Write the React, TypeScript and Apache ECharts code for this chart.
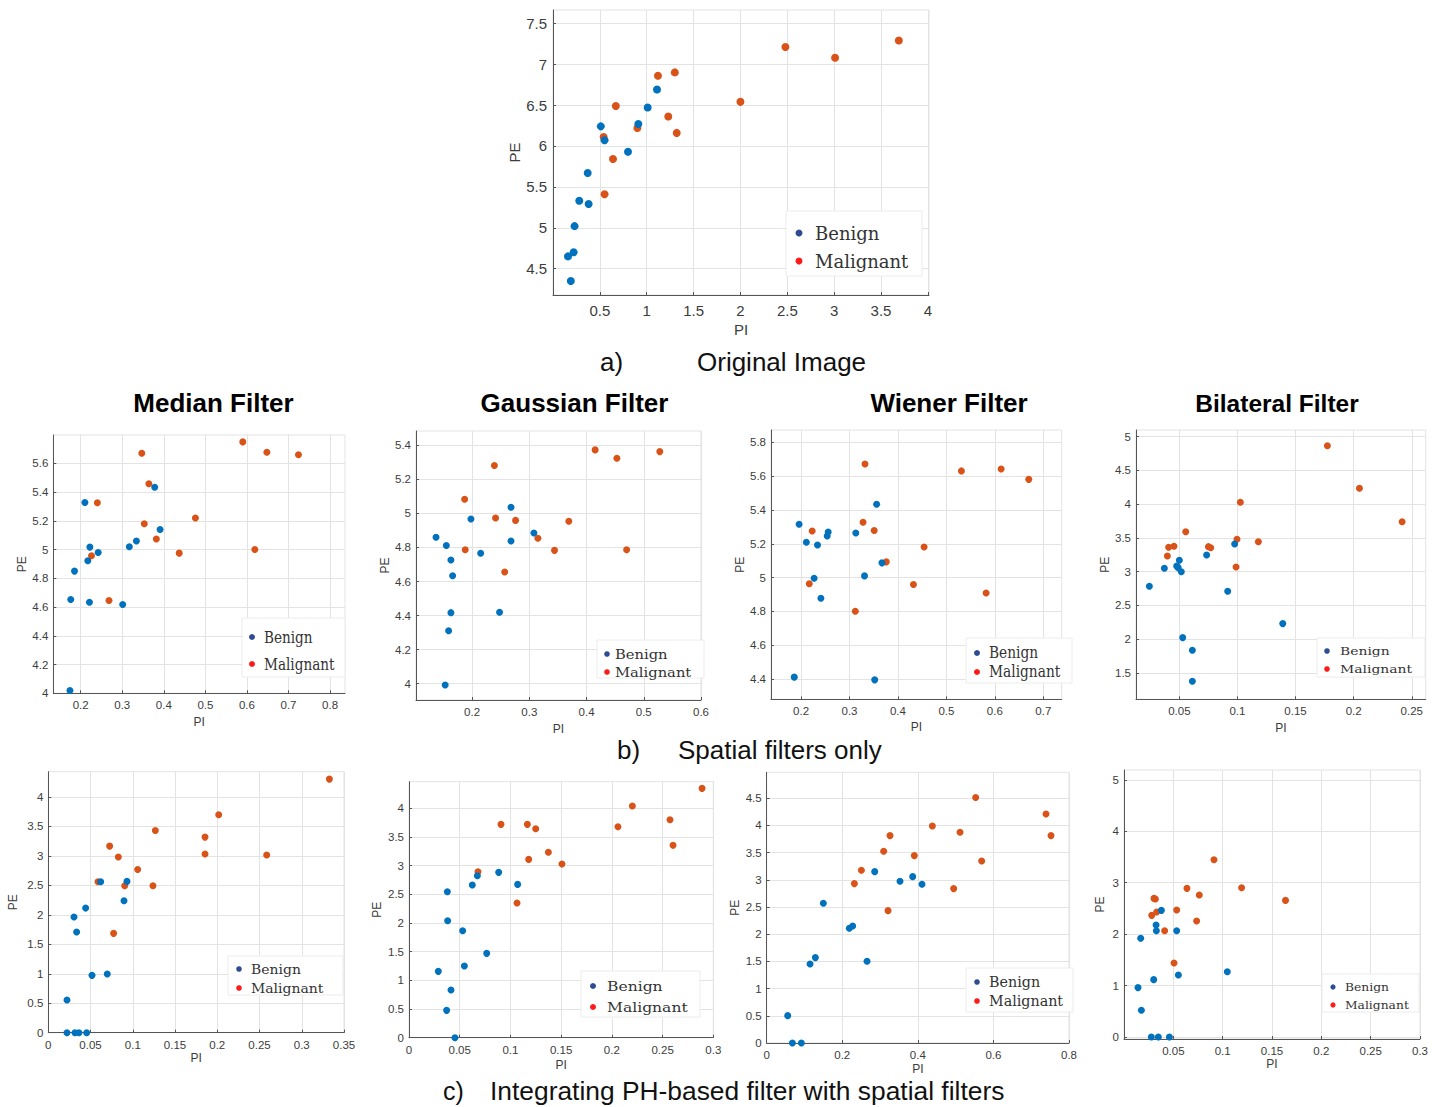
import React, { useEffect, useRef } from 'react';
import * as echarts from 'echarts';

// ---------- Data: [PI, PE] pairs ----------
// a) Original image
const origBenign = [[0.16,4.65],[0.22,4.70],[0.19,4.35],[0.23,5.02],[0.28,5.33],[0.38,5.29],[0.37,5.67],[0.51,6.24],[0.55,6.07],[0.80,5.93],[0.91,6.27],[1.01,6.47],[1.11,6.69]];
const origMalignant = [[0.54,6.11],[0.55,5.41],[0.64,5.84],[0.67,6.49],[0.90,6.22],[1.12,6.86],[1.30,6.90],[1.23,6.36],[1.32,6.16],[2.00,6.54],[2.48,7.21],[3.01,7.08],[3.69,7.29]];
// b) Spatial filters only
const medianBenign = [[0.174,4.02],[0.176,4.652],[0.185,4.85],[0.21,5.328],[0.217,4.922],[0.222,5.017],[0.221,4.634],[0.242,4.98],[0.301,4.618],[0.317,5.019],[0.334,5.059],[0.378,5.433],[0.391,5.14]];
const medianMalignant = [[0.226,4.957],[0.24,5.326],[0.268,4.646],[0.347,5.67],[0.364,5.458],[0.353,5.18],[0.382,5.073],[0.437,4.975],[0.476,5.219],[0.59,5.749],[0.648,5.677],[0.724,5.66],[0.619,5.001]];
const gaussBenign = [[0.137,4.86],[0.155,4.811],[0.163,4.726],[0.166,4.634],[0.163,4.417],[0.159,4.311],[0.153,3.992],[0.198,4.967],[0.215,4.766],[0.248,4.419],[0.268,5.036],[0.268,4.838],[0.308,4.885]];
const gaussMalignant = [[0.187,5.083],[0.188,4.787],[0.239,5.281],[0.241,4.973],[0.276,4.959],[0.257,4.656],[0.315,4.854],[0.344,4.783],[0.369,4.954],[0.415,5.373],[0.453,5.324],[0.47,4.787],[0.528,5.363]];
const wienerBenign = [[0.186,4.411],[0.196,5.315],[0.211,5.209],[0.234,5.193],[0.227,4.996],[0.241,4.878],[0.254,5.246],[0.256,5.27],[0.313,5.264],[0.331,5.01],[0.356,5.434],[0.352,4.395],[0.367,5.087]];
const wienerMalignant = [[0.223,5.276],[0.217,4.963],[0.312,4.801],[0.332,5.672],[0.328,5.327],[0.351,5.278],[0.376,5.093],[0.454,5.181],[0.432,4.959],[0.531,5.631],[0.582,4.909],[0.613,5.642],[0.67,5.581]];
const bilatBenign = [[0.0242,2.784],[0.0371,3.05],[0.0477,3.085],[0.05,3.169],[0.049,3.06],[0.0517,3.0],[0.0529,2.024],[0.0612,1.836],[0.0612,1.377],[0.0735,3.248],[0.0916,2.71],[0.0976,3.411],[0.139,2.231]];
const bilatMalignant = [[0.0397,3.233],[0.0408,3.361],[0.0454,3.376],[0.0555,3.593],[0.075,3.371],[0.077,3.356],[0.0996,3.48],[0.0988,3.07],[0.1025,4.028],[0.118,3.445],[0.1774,4.867],[0.205,4.235],[0.2417,3.741]];
// c) PH-based filter + spatial filters
const phMedianBenign = [[0.0221,0],[0.0315,0],[0.0363,0],[0.0454,0],[0.0221,0.554],[0.0304,1.963],[0.0335,1.708],[0.0442,2.115],[0.0517,0.973],[0.062,2.562],[0.0698,0.995],[0.0896,2.24],[0.0931,2.568]];
const phMedianMalignant = [[0.0588,2.562],[0.0726,3.167],[0.0773,1.686],[0.0829,2.981],[0.0904,2.494],[0.1058,2.771],[0.1239,2.494],[0.1267,3.433],[0.1855,3.32],[0.1855,3.032],[0.2017,3.699],[0.2585,3.015],[0.3327,4.304]];
const phGaussBenign = [[0.0289,1.157],[0.0378,2.547],[0.0381,2.041],[0.0371,0.477],[0.0414,0.831],[0.0453,0],[0.0529,1.866],[0.0546,1.25],[0.0624,2.663],[0.0674,2.826],[0.0766,1.471],[0.0884,2.884],[0.1071,2.674]];
const phGaussMalignant = [[0.068,2.895],[0.0907,3.721],[0.1065,2.349],[0.1167,3.721],[0.118,3.11],[0.1249,3.645],[0.1374,3.233],[0.1508,3.029],[0.206,3.68],[0.2202,4.041],[0.2573,3.802],[0.2603,3.355],[0.2889,4.349]];
const phWienerBenign = [[0.0556,0.503],[0.0679,0],[0.0917,0],[0.1147,1.453],[0.1288,1.57],[0.1499,2.569],[0.2187,2.109],[0.2276,2.152],[0.2655,1.502],[0.2858,3.151],[0.3528,2.974],[0.3863,3.059],[0.411,2.918]];
const phWienerMalignant = [[0.232,2.931],[0.2505,3.176],[0.3096,3.525],[0.3263,3.814],[0.3211,2.434],[0.3907,3.446],[0.4384,3.991],[0.4948,2.839],[0.5116,3.875],[0.553,4.513],[0.5689,3.348],[0.7391,4.212],[0.7524,3.814]];
const phBilatBenign = [[0.0142,0.959],[0.0176,0.518],[0.0169,1.917],[0.0277,0],[0.0348,0],[0.046,0],[0.0301,1.114],[0.0325,2.176],[0.0328,2.066],[0.0379,2.461],[0.0534,2.066],[0.0551,1.205],[0.1047,1.269]];
const phBilatMalignant = [[0.0281,2.364],[0.0304,2.694],[0.0318,2.681],[0.0331,2.429],[0.0412,2.066],[0.0507,1.438],[0.0534,2.468],[0.0638,2.889],[0.0736,2.254],[0.0763,2.759],[0.0912,3.446],[0.1192,2.902],[0.1637,2.655]];

// ---------- Tick labels ----------
const origXTicks = [0.5,1,1.5,2,2.5,3,3.5,4];
const origYTicks = [4.5,5,5.5,6,6.5,7,7.5];
const medianXTicks = [0.2,0.3,0.4,0.5,0.6,0.7,0.8];
const medianYTicks = [4,4.2,4.4,4.6,4.8,5,5.2,5.4,5.6];
const gaussXTicks = [0.2,0.3,0.4,0.5,0.6];
const gaussYTicks = [4,4.2,4.4,4.6,4.8,5,5.2,5.4];
const wienerXTicks = [0.2,0.3,0.4,0.5,0.6,0.7];
const wienerYTicks = [4.4,4.6,4.8,5,5.2,5.4,5.6,5.8];
const bilatXTicks = [0.05,0.1,0.15,0.2,0.25];
const bilatYTicks = [1.5,2,2.5,3,3.5,4,4.5,5];
const phMedianXTicks = [0,0.05,0.1,0.15,0.2,0.25,0.3,0.35];
const phMedianYTicks = [0,0.5,1,1.5,2,2.5,3,3.5,4];
const phGaussXTicks = [0,0.05,0.1,0.15,0.2,0.25,0.3];
const phGaussYTicks = [0,0.5,1,1.5,2,2.5,3,3.5,4];
const phWienerXTicks = [0,0.2,0.4,0.6,0.8];
const phWienerYTicks = [0,0.5,1,1.5,2,2.5,3,3.5,4,4.5];
const phBilatXTicks = [0.05,0.1,0.15,0.2,0.25,0.3];
const phBilatYTicks = [0,1,2,3,4,5];

const titles = ['Median Filter', 'Gaussian Filter', 'Wiener Filter', 'Bilateral Filter'];

const BLUE = '#0072BD';
const ORANGE = '#D95319';
const GRID = '#e3e3e3';
const AXIS = '#555555';
const LABEL = '#3c3c3c';
const SANS = '"Liberation Sans", Arial, sans-serif';
const SERIF = '"DejaVu Serif", serif';

type Panel = {
  benign: number[][]; malignant: number[][]; xTicks: number[]; yTicks: number[];
  left: number; top: number; width: number; height: number;
  xMin: number; xMax: number; yMin: number; yMax: number;
  big?: boolean; xGap: number; yGap: number;
  lg: { box: number[]; dotX: number; y1: number; y2: number; textX: number; fs: number; sx: number; r: number };
};

const panels: Panel[] = [
  { benign: origBenign, malignant: origMalignant, xTicks: origXTicks, yTicks: origYTicks,
    left: 553, top: 10, width: 376, height: 285, xMin: 0, xMax: 4.012, yMin: 4.178, yMax: 7.663, big: true,
    xGap: 26.5, yGap: 31.5,
    lg: { box: [786, 211, 136, 65], dotX: 799, y1: 233, y2: 261, textX: 815, fs: 18, sx: 1.0, r: 3.5 } },
  { benign: medianBenign, malignant: medianMalignant, xTicks: medianXTicks, yTicks: medianYTicks,
    left: 53.3, top: 435, width: 291.7, height: 258.3, xMin: 0.134, xMax: 0.836, yMin: 4.0, yMax: 5.797,
    xGap: 22.4, yGap: 23.3,
    lg: { box: [242, 618, 103, 59], dotX: 252, y1: 637, y2: 664, textX: 264, fs: 17, sx: 0.8, r: 3 } },
  { benign: gaussBenign, malignant: gaussMalignant, xTicks: gaussXTicks, yTicks: gaussYTicks,
    left: 416, top: 431, width: 285, height: 269, xMin: 0.102, xMax: 0.6, yMin: 3.904, yMax: 5.484,
    xGap: 23, yGap: 23.7,
    lg: { box: [597, 640, 107, 38], dotX: 607, y1: 654, y2: 672, textX: 615, fs: 12.8, sx: 1.15, r: 2.8 } },
  { benign: wienerBenign, malignant: wienerMalignant, xTicks: wienerXTicks, yTicks: wienerYTicks,
    left: 771, top: 430, width: 290.7, height: 269.3, xMin: 0.138, xMax: 0.738, yMin: 4.28, yMax: 5.873,
    xGap: 21.4, yGap: 23.3,
    lg: { box: [966, 638, 106, 45], dotX: 977, y1: 653, y2: 672, textX: 989, fs: 16, sx: 0.86, r: 3 } },
  { benign: bilatBenign, malignant: bilatMalignant, xTicks: bilatXTicks, yTicks: bilatYTicks,
    left: 1136, top: 430, width: 289.7, height: 269.3, xMin: 0.0127, xMax: 0.262, yMin: 1.11, yMax: 5.099,
    xGap: 22.4, yGap: 23.3,
    lg: { box: [1317, 638, 108, 39], dotX: 1327, y1: 651, y2: 669, textX: 1340, fs: 11.9, sx: 1.17, r: 2.8 } },
  { benign: phMedianBenign, malignant: phMedianMalignant, xTicks: phMedianXTicks, yTicks: phMedianYTicks,
    left: 48.3, top: 771.7, width: 295.7, height: 261, xMin: 0, xMax: 0.35, yMin: 0, yMax: 4.43,
    xGap: 19.6, yGap: 29,
    lg: { box: [228, 956, 115, 39], dotX: 239, y1: 969, y2: 988, textX: 251, fs: 13.7, sx: 1.02, r: 2.8 } },
  { benign: phGaussBenign, malignant: phGaussMalignant, xTicks: phGaussXTicks, yTicks: phGaussYTicks,
    left: 409, top: 781.7, width: 304.3, height: 256, xMin: 0, xMax: 0.3, yMin: 0, yMax: 4.465,
    xGap: 21.3, yGap: 25.7,
    lg: { box: [581, 971, 119, 46], dotX: 593, y1: 986, y2: 1007, textX: 607, fs: 13.3, sx: 1.17, r: 3 } },
  { benign: phWienerBenign, malignant: phWienerMalignant, xTicks: phWienerXTicks, yTicks: phWienerYTicks,
    left: 766.7, top: 772.3, width: 302.3, height: 270.7, xMin: 0, xMax: 0.8, yMin: 0, yMax: 4.978,
    xGap: 20, yGap: 25.7,
    lg: { box: [966, 968, 107, 44], dotX: 977, y1: 982, y2: 1001, textX: 989, fs: 14.6, sx: 0.98, r: 2.8 } },
  { benign: phBilatBenign, malignant: phBilatMalignant, xTicks: phBilatXTicks, yTicks: phBilatYTicks,
    left: 1124, top: 770, width: 296, height: 269, xMin: 0, xMax: 0.3, yMin: -0.04, yMax: 5.19,
    xGap: 16.7, yGap: 18,
    lg: { box: [1322, 974, 97, 38], dotX: 1333, y1: 987, y2: 1005, textX: 1345, fs: 11.4, sx: 1.08, r: 2.6 } },
];

const fmt = (v: number) => String(Math.round(v * 10000) / 10000);

function txt(x: number, y: number, text: string, fontSize: number, opts: any = {}) {
  return {
    type: 'text', x, y, z: 100, scaleX: opts.sx ?? 1,
    style: {
      text, fontSize, fontFamily: opts.font ?? SANS, fontWeight: opts.weight ?? 'normal',
      fill: opts.fill ?? '#111', align: opts.align ?? 'left', textAlign: opts.align ?? 'left',
      verticalAlign: 'middle', textVerticalAlign: 'middle',
    },
  };
}

export default function App() {
  const ref = useRef<HTMLDivElement>(null);
  useEffect(() => {
    document.body.style.margin = '0';
    const chart = echarts.init(ref.current as HTMLDivElement, null, { renderer: 'svg' });
    const grid: any[] = [], xAxis: any[] = [], yAxis: any[] = [], series: any[] = [], graphic: any[] = [];
    panels.forEach((p, i) => {
      const tickFont = p.big ? 15 : 11.5;
      const nameFont = p.big ? 15 : 12;
      const sym = p.big ? 8 : 7;
      grid.push({ left: p.left, top: p.top, width: p.width, height: p.height, show: true,
        borderColor: GRID, borderWidth: 1, backgroundColor: 'transparent', containLabel: false });
      const common = (ticks: number[], margin: number) => ({
        type: 'value', gridIndex: i, nameLocation: 'middle',
        nameTextStyle: { fontSize: nameFont, fontFamily: SANS, color: LABEL },
        axisLine: { show: true, onZero: false, lineStyle: { color: AXIS, width: 1 } },
        axisTick: { show: true, inside: true, length: 3, customValues: ticks, lineStyle: { color: AXIS } },
        axisLabel: { customValues: ticks, fontSize: tickFont, fontFamily: SANS, color: LABEL, margin, formatter: fmt },
        splitLine: { show: true, lineStyle: { color: GRID, width: 1 } },
      });
      xAxis.push({ ...common(p.xTicks, p.big ? 8 : 6), min: p.xMin, max: p.xMax, name: 'PI', nameGap: p.xGap });
      yAxis.push({ ...common(p.yTicks, p.big ? 6 : 5), min: p.yMin, max: p.yMax, name: 'PE', nameGap: p.yGap });
      series.push({ type: 'scatter', name: 'Malignant', xAxisIndex: i, yAxisIndex: i, data: p.malignant,
        symbolSize: sym, itemStyle: { color: ORANGE, opacity: 1 }, silent: true, z: 2 });
      series.push({ type: 'scatter', name: 'Benign', xAxisIndex: i, yAxisIndex: i, data: p.benign,
        symbolSize: sym, itemStyle: { color: BLUE, opacity: 1 }, silent: true, z: 3 });
      const lg = p.lg;
      graphic.push({ type: 'rect', z: 99, shape: { x: lg.box[0], y: lg.box[1], width: lg.box[2], height: lg.box[3] },
        style: { fill: '#ffffff', stroke: '#ececec', lineWidth: 1 } });
      graphic.push({ type: 'circle', z: 100, shape: { cx: lg.dotX, cy: lg.y1, r: lg.r }, style: { fill: '#2f4c92' } });
      graphic.push({ type: 'circle', z: 100, shape: { cx: lg.dotX, cy: lg.y2, r: lg.r }, style: { fill: '#ff1a1a' } });
      graphic.push(txt(lg.textX, lg.y1, 'Benign', lg.fs, { font: SERIF, fill: '#333', sx: lg.sx }));
      graphic.push(txt(lg.textX, lg.y2, 'Malignant', lg.fs, { font: SERIF, fill: '#333', sx: lg.sx }));
    });
    // Panel titles
    const titleX = [213.5, 574.5, 949, 1277];
    titles.forEach((t, k) => {
      graphic.push(txt(titleX[k], 403, t, k === 3 ? 24.5 : 26, { align: 'center', weight: 'bold', fill: '#000' }));
    });
    // Captions
    graphic.push(txt(600, 362, 'a)', 26));
    graphic.push(txt(697, 362, 'Original Image', 26));
    graphic.push(txt(617, 750, 'b)', 26));
    graphic.push(txt(678, 750, 'Spatial filters only', 26));
    graphic.push(txt(443, 1091, 'c)', 25));
    graphic.push(txt(490, 1091, 'Integrating PH-based filter with spatial filters', 25, { sx: 1.055 }));

    chart.setOption({ animation: false, backgroundColor: '#ffffff', grid, xAxis, yAxis, series, graphic });
    return () => chart.dispose();
  }, []);
  return <div ref={ref} style={{ width: 1444, height: 1107 }} />;
}
